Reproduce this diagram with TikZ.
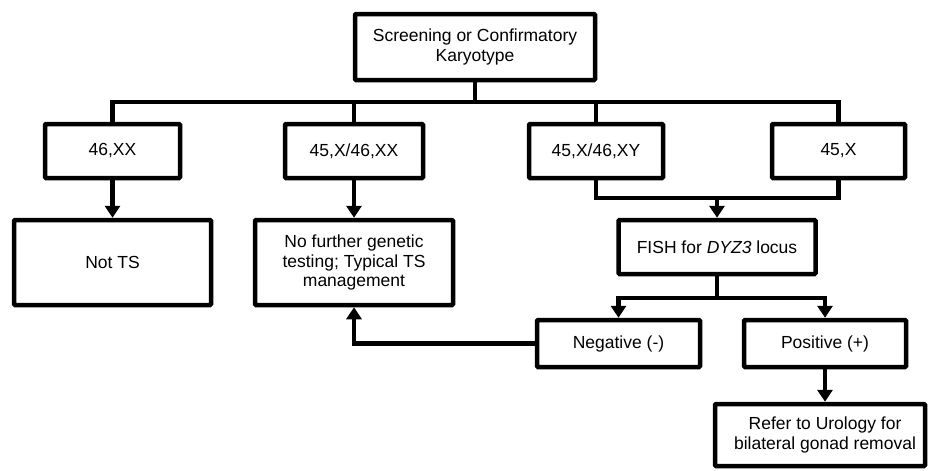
\documentclass[tikz,border=0pt]{standalone}
\usepackage{fontspec}
\setmainfont{Liberation Sans}
\usetikzlibrary{arrows.meta}
\begin{document}
\begin{tikzpicture}[x=1pt,y=-1pt,
  box/.style={draw, line width=4.5pt, rounded corners=1pt, inner sep=0pt, align=center,
    font=\fontsize{17.5}{19.5}\selectfont, fill=white},
  conn/.style={line width=4.5pt},
  arr/.style={line width=4.5pt, -{Triangle[width=15pt,length=12pt]}}]
\useasboundingbox (0,0) rectangle (929,471);
\fill[white] (0,0) rectangle (929,471);
\node[box, minimum width=240pt, minimum height=66pt] (top) at (475,47) {Screening or Confirmatory\\Karyotype};
\node[box, minimum width=135pt, minimum height=54pt] (xx) at (112.5,151) {46,XX};
\node[box, minimum width=138pt, minimum height=54pt] (mxx) at (354,151) {45,X/46,XX};
\node[box, minimum width=134pt, minimum height=54pt] (mxy) at (596,151) {45,X/46,XY};
\node[box, minimum width=133pt, minimum height=54pt] (x) at (838.5,151) {45,X};
\node[box, minimum width=197pt, minimum height=85pt] (nots) at (112.5,262.5) {Not TS};
\node[box, minimum width=198pt, minimum height=85pt] (nofurther) at (354,262.5) {No further genetic\\testing; Typical TS\\management};
\node[box, minimum width=197pt, minimum height=54pt] (fish) at (717,247) {FISH for \textit{DYZ3} locus};
\node[box, minimum width=163pt, minimum height=47pt] (neg) at (618.5,343.5) {Negative (-)};
\node[box, minimum width=162pt, minimum height=47pt] (pos) at (825,343.5) {Positive (+)};
\node[box, minimum width=210pt, minimum height=62pt] (refer) at (820,435) {\hspace*{10pt}Refer to Urology for\\\hspace*{10pt}bilateral gonad removal};
\coordinate (bus) at (475,102);
\coordinate (merge) at (717,198);
\coordinate (split) at (717,298);
% top bus
\draw[conn] (top.south) -- (bus);
\draw[conn] (xx.north) -- (xx.north |- bus) -- (x.north |- bus) -- (x.north);
\draw[conn] (mxx.north) -- (mxx.north |- bus);
\draw[conn] (mxy.north) -- (mxy.north |- bus);
% first level arrows
\draw[arr] (xx.south) -- (nots.north);
\draw[arr] (mxx.south) -- (nofurther.north);
% merge to FISH
\draw[conn] (mxy.south) -- (mxy.south |- merge) -- (x.south |- merge) -- (x.south);
\draw[arr] (merge) -- (fish.north);
% split
\draw[conn] (fish.south) -- (split);
\draw[arr] (split) -| (neg.north);
\draw[arr] (split) -| (pos.north);
% negative back
\draw[arr] (neg.west) -- (nofurther.south |- neg.west) -- (nofurther.south);
% positive
\draw[arr] (pos.south) -- (pos.south |- refer.north);
\end{tikzpicture}
\end{document}
